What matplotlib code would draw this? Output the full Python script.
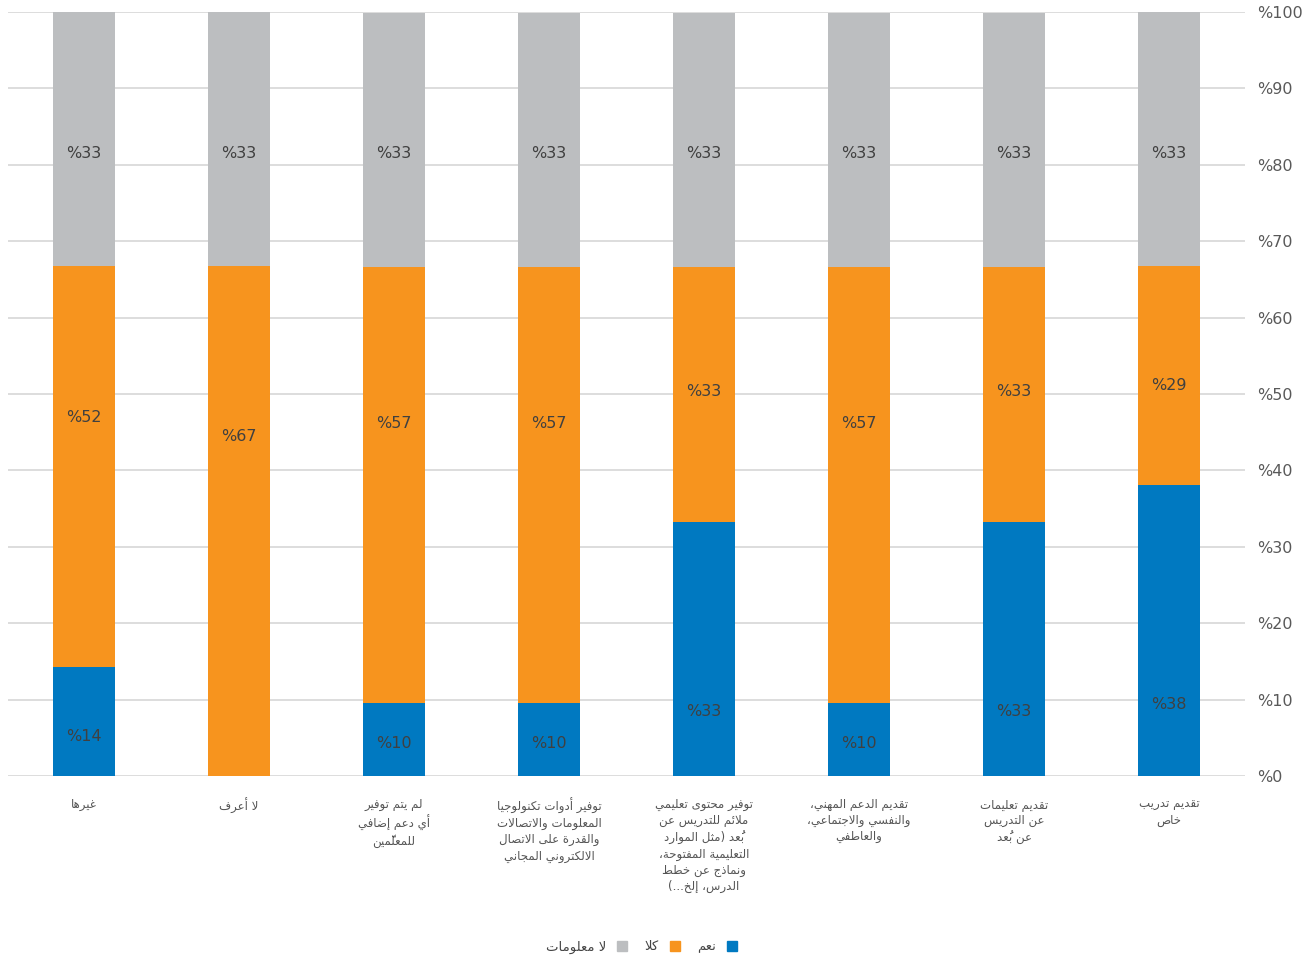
import matplotlib
matplotlib.use("Agg")
import matplotlib.pyplot as plt
from matplotlib.patches import Patch

plt.rcParams['font.family'] = ['DejaVu Sans']

# ---------------- data ----------------
categories = [
    "غيرها",
    "لا أعرف",
    "لم يتم توفير\nأي دعم إضافي\nللمعلّمين",
    "توفير أدوات تكنولوجيا\nالمعلومات والاتصالات\nوالقدرة على الاتصال\nالالكتروني المجاني",
    "توفير محتوى تعليمي\nملائم للتدريس عن\nبُعد (مثل الموارد\nالتعليمية المفتوحة،\nونماذج عن خطط\nالدرس، إلخ...)",
    "تقديم الدعم المهني،\nوالنفسي والاجتماعي،\nوالعاطفي",
    "تقديم تعليمات\nعن التدريس\nعن بُعد",
    "تقديم تدريب\nخاص",
]
series_names = ["نعم", "كلا", "لا معلومات"]
yes_vals = [14.3, 0.0, 9.5, 9.5, 33.3, 9.5, 33.3, 38.1]
no_vals = [52.4, 66.7, 57.1, 57.1, 33.3, 57.1, 33.3, 28.6]
na_vals = [33.3, 33.3, 33.3, 33.3, 33.3, 33.3, 33.3, 33.3]
y_ticks = [0, 10, 20, 30, 40, 50, 60, 70, 80, 90, 100]

# ---------------- styles ----------------
colors = ["#0079C1", "#F7941E", "#BCBEC0"]
LABEL_SCALE = 0.35
LABEL_OFFSET = [2.64, 32.8, 52.3]

# ---------------- minimal Arabic shaping ----------------
DUAL = {'ئ': 0xFE89, 'ب': 0xFE8F, 'ت': 0xFE95, 'ث': 0xFE99, 'ج': 0xFE9D,
        'ح': 0xFEA1, 'خ': 0xFEA5, 'س': 0xFEB1, 'ش': 0xFEB5, 'ص': 0xFEB9,
        'ض': 0xFEBD, 'ط': 0xFEC1, 'ظ': 0xFEC5, 'ع': 0xFEC9, 'غ': 0xFECD,
        'ف': 0xFED1, 'ق': 0xFED5, 'ك': 0xFED9, 'ل': 0xFEDD, 'م': 0xFEE1,
        'ن': 0xFEE5, 'ه': 0xFEE9, 'ي': 0xFEF1}
RIGHT = {'آ': 0xFE81, 'أ': 0xFE83, 'ؤ': 0xFE85, 'إ': 0xFE87, 'ا': 0xFE8D,
         'ة': 0xFE93, 'د': 0xFEA9, 'ذ': 0xFEAB, 'ر': 0xFEAD, 'ز': 0xFEAF,
         'و': 0xFEED, 'ى': 0xFEEF}
NONJ = {'ء': 0xFE80}
LAMALEF = {'آ': 0xFEF5, 'أ': 0xFEF7, 'إ': 0xFEF9, 'ا': 0xFEFB}
MARKS = set(chr(c) for c in range(0x064B, 0x0653)) | {'\u0670'}
MIRROR = {'(': ')', ')': '('}


def shape_line(s):
    toks = []
    i = 0
    while i < len(s):
        c = s[i]
        if c in MARKS and toks:
            toks[-1]['marks'] += c
            i += 1
            continue
        if c == 'ل' and i + 1 < len(s) and s[i + 1] in LAMALEF:
            toks.append({'ch': s[i + 1], 'kind': 'LA', 'marks': ''})
            i += 2
            continue
        if c in DUAL:
            kind = 'D'
        elif c in RIGHT:
            kind = 'R'
        elif c in NONJ:
            kind = 'N'
        else:
            kind = 'X'
        toks.append({'ch': c, 'kind': kind, 'marks': ''})
        i += 1
    out = []
    for k, t in enumerate(toks):
        prev_j = k > 0 and toks[k - 1]['kind'] == 'D' and t['kind'] in ('D', 'R', 'LA')
        next_j = (t['kind'] == 'D' and k + 1 < len(toks)
                  and toks[k + 1]['kind'] in ('D', 'R', 'LA'))
        c = t['ch']
        if t['kind'] == 'D':
            base = DUAL[c]
            off = 3 if (prev_j and next_j) else 1 if prev_j else 2 if next_j else 0
            g = chr(base + off)
        elif t['kind'] == 'R':
            g = chr(RIGHT[c] + (1 if prev_j else 0))
        elif t['kind'] == 'LA':
            g = chr(LAMALEF[c] + (1 if prev_j else 0))
        elif t['kind'] == 'N':
            g = chr(NONJ[c])
        else:
            g = MIRROR.get(c, c)
        # zero-width mark drawn before its base so it sits over it
        out.append(t['marks'] + g)
    return ''.join(reversed(out))


def shape(s):
    return '\n'.join(shape_line(line) for line in s.split('\n'))


# ---------------- figure ----------------
fig = plt.figure(figsize=(13.14, 9.6), dpi=100)
ax = fig.add_axes([8 / 1314, 1 - 776 / 960, (1245 - 8) / 1314, (776 - 12) / 960])

x = list(range(len(categories)))
width = 0.4
bottoms = [0.0] * len(categories)
all_series = [yes_vals, no_vals, na_vals]
for s, vals in enumerate(all_series):
    ax.bar(x, vals, width=width, bottom=bottoms, color=colors[s], zorder=2)
    for i, v in enumerate(vals):
        if v > 0:
            mid = bottoms[i] + v / 2
            ly = LABEL_SCALE * mid + LABEL_OFFSET[s]
            ax.text(i, ly, f"%{round(v)}", ha='center', va='center',
                    fontsize=11.5, color='#404040', zorder=3)
    bottoms = [b + v for b, v in zip(bottoms, vals)]

ax.set_xlim(-0.49, len(categories) - 0.51)
ax.set_ylim(0, 100)
ax.set_yticks(y_ticks)
ax.set_yticklabels([f"%{t}" for t in y_ticks], fontsize=11.5, color='#595959')
ax.yaxis.tick_right()
ax.tick_params(axis='y', length=0, pad=9)
ax.yaxis.grid(True, color='#DADADA', linewidth=1.3, zorder=0)
ax.set_axisbelow(True)
for sp in ax.spines.values():
    sp.set_visible(False)

ax.set_xticks(x)
ax.set_xticklabels([shape(c) for c in categories], fontsize=8.5,
                   color='#555555', linespacing=1.3)
ax.tick_params(axis='x', length=0, pad=16)

handles = [Patch(color=colors[2]), Patch(color=colors[1]), Patch(color=colors[0])]
labels = [shape(series_names[2]), shape(series_names[1]), shape(series_names[0])]
fig.legend(handles, labels, loc='center', bbox_to_anchor=(0.488, 0.0135),
           ncol=3, frameon=False, markerfirst=False, fontsize=9.5,
           handlelength=0.75, handleheight=0.75, handletextpad=0.85,
           columnspacing=1.3, labelcolor='#444444')

fig.savefig("out.png", dpi=100)
